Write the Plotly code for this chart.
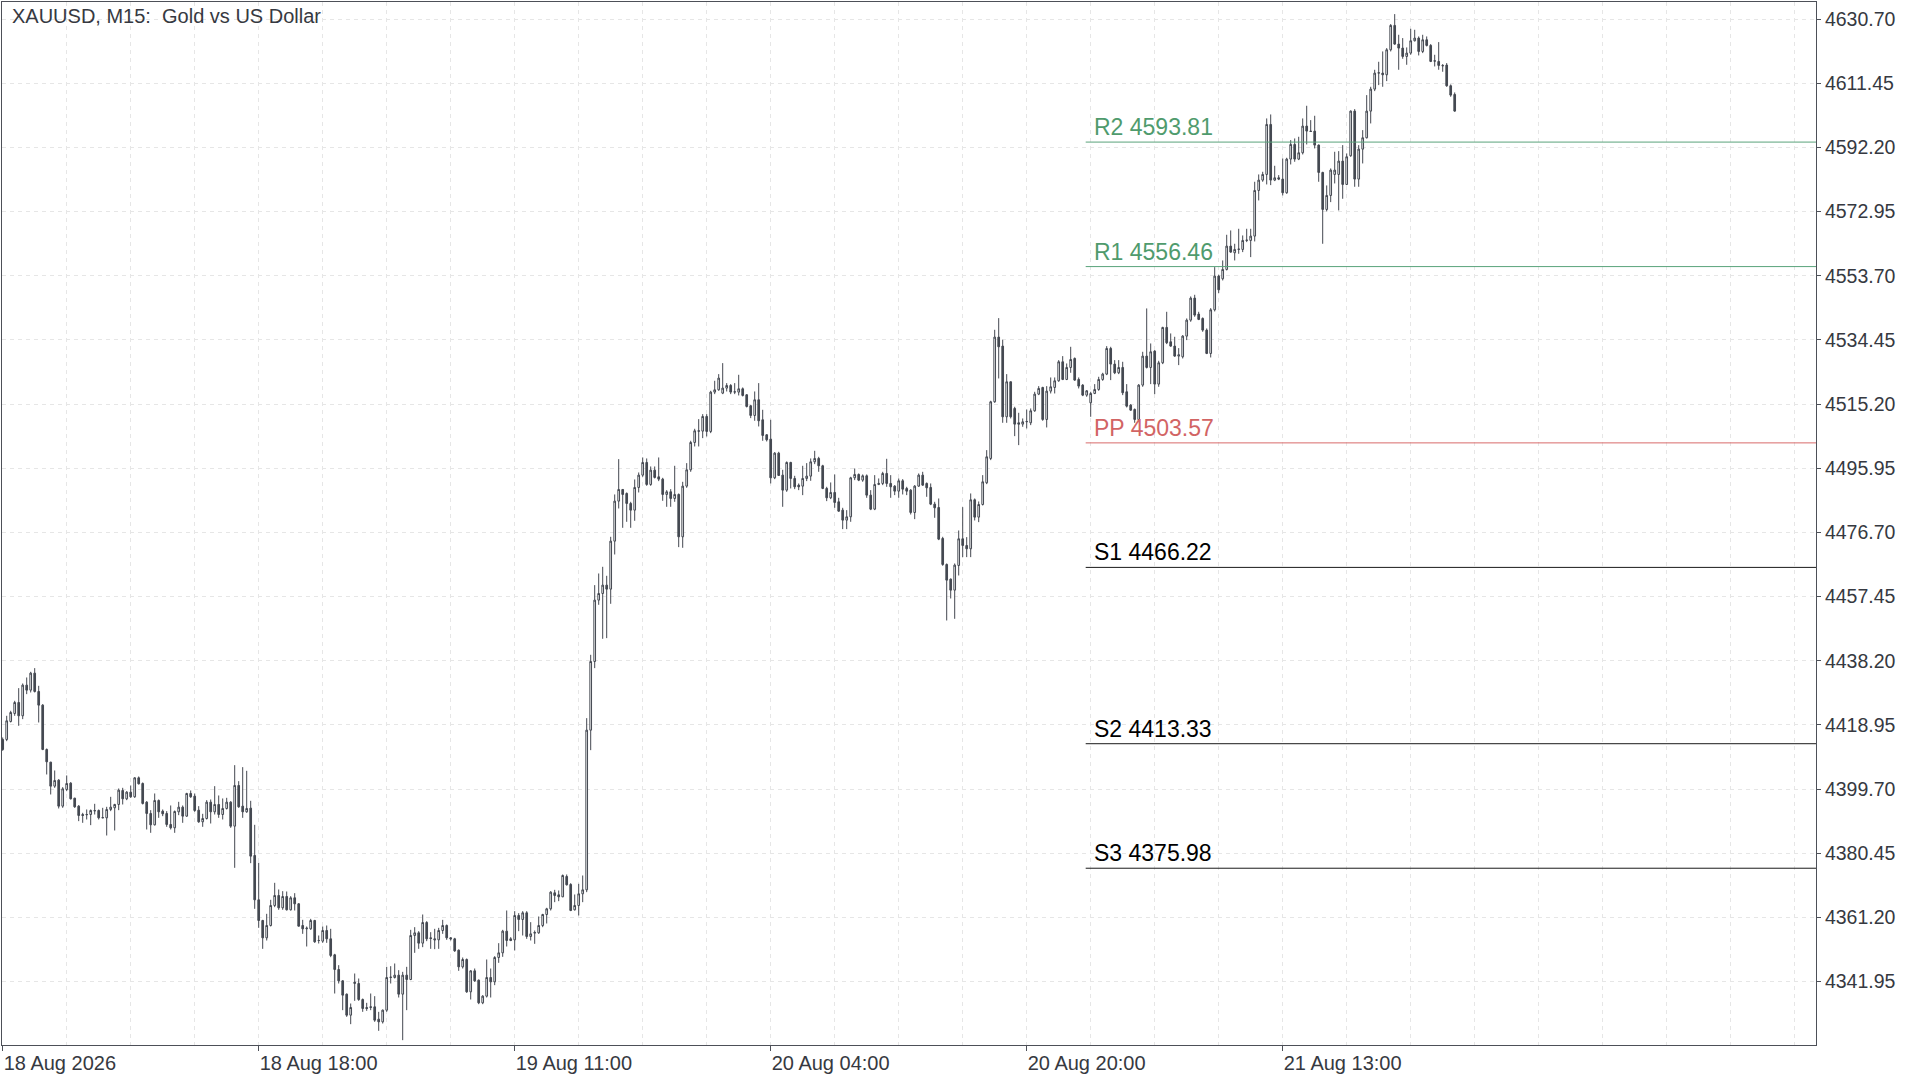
import plotly.graph_objects as go

# ---------------- data (XAUUSD M15 candles) ----------------
o = [4414.6,4414.6,4420.0,4422.4,4425.7,4421.7,4430.9,4429.4,4434.5,4429.0,
     4424.9,4411.6,4407.8,4400.6,4402.4,4394.6,4399.6,4401.5,4397.0,4394.6,
     4392.1,4392.0,4392.1,4393.3,4393.3,4391.2,4391.1,4393.6,4394.1,4395.1,
     4399.3,4396.8,4398.8,4397.4,4403.1,4401.4,4395.8,4392.4,4389.0,4396.3,
     4393.1,4392.4,4389.1,4388.1,4392.9,4394.3,4391.6,4398.4,4397.6,4393.4,
     4389.9,4390.9,4395.8,4392.9,4395.1,4392.1,4393.9,4395.8,4388.6,4400.8,
     4394.6,4392.9,4394.0,4379.8,4366.5,4360.3,4355.1,4358.8,4364.8,4367.8,
     4364.1,4367.5,4363.5,4367.1,4365.3,4358.8,4357.8,4357.8,4360.3,4354.3,
     4354.1,4357.3,4354.8,4350.0,4345.6,4342.2,4338.2,4331.9,4341.4,4341.4,
     4336.6,4334.2,4334.2,4334.4,4330.7,4329.9,4333.4,4343.2,4343.2,4343.9,
     4338.2,4343.9,4342.6,4355.8,4356.6,4353.5,4359.7,4355.1,4354.8,4354.5,
     4357.3,4358.8,4355.1,4354.8,4351.4,4346.4,4348.6,4338.9,4345.2,4342.4,
     4335.6,4337.6,4343.2,4341.9,4349.2,4350.6,4357.1,4354.8,4354.5,4361.8,
     4360.6,4362.6,4355.5,4356.5,4356.6,4358.8,4362.1,4363.8,4368.6,4368.0,
     4367.4,4373.5,4371.1,4363.5,4364.8,4368.3,4369.5,4417.4,4438.0,4456.4,
     4458.4,4460.9,4459.7,4474.1,4486.1,4489.6,4488.4,4485.4,4483.4,4490.2,
     4493.9,4497.7,4491.1,4495.4,4493.4,4492.7,4488.1,4488.9,4486.9,4488.1,
     4475.4,4490.6,4495.5,4503.7,4507.2,4507.1,4511.5,4507.0,4518.8,4519.5,
     4518.5,4520.0,4520.8,4518.8,4518.8,4519.8,4518.0,4514.7,4511.8,4516.5,
     4510.5,4506.0,4504.7,4493.1,4500.5,4493.9,4489.4,4497.7,4492.9,4490.9,
     4490.6,4492.9,4493.6,4497.9,4498.9,4496.7,4489.9,4487.1,4488.7,4485.9,
     4483.4,4480.4,4481.4,4493.1,4494.1,4492.4,4493.7,4487.9,4483.7,4491.1,
     4491.4,4494.4,4491.4,4490.6,4489.1,4492.2,4489.9,4489.4,4482.7,4490.6,
     4493.9,4491.4,4490.2,4485.2,4484.2,4474.9,4467.1,4462.7,4459.4,4466.8,
     4474.8,4472.8,4471.8,4486.5,4481.3,4485.1,4491.6,4498.9,4515.9,4535.3,
     4532.6,4511.4,4521.9,4513.9,4509.6,4509.2,4509.9,4509.6,4513.2,4518.2,
     4520.2,4510.6,4519.1,4520.2,4522.2,4527.9,4522.6,4526.2,4528.9,4522.6,
     4520.9,4517.9,4515.6,4518.4,4519.6,4522.6,4524.2,4531.9,4527.2,4524.6,
     4526.2,4518.9,4514.9,4513.6,4510.6,4520.9,4529.6,4526.2,4531.1,4521.2,
     4527.6,4538.2,4533.9,4532.6,4529.6,4529.4,4535.6,4540.4,4547.0,4542.2,
     4540.9,4537.4,4530.4,4543.5,4553.6,4552.8,4555.6,4562.6,4560.6,4561.6,
     4561.6,4564.3,4564.3,4565.6,4579.3,4582.4,4584.1,4599.1,4582.4,4583.1,
     4582.7,4578.6,4588.7,4593.1,4588.7,4590.6,4598.6,4597.1,4597.1,4592.9,
     4584.7,4573.6,4577.8,4584.1,4584.1,4588.1,4581.1,4589.7,4603.1,4582.7,
     4591.7,4595.1,4603.1,4609.7,4614.5,4614.5,4614.0,4621.5,4628.8,4623.2,
     4622.0,4619.5,4620.5,4624.2,4625.0,4621.0,4624.5,4622.8,4618.2,4618.0,
     4616.8,4616.9,4610.7,4608.1]
h = [4415.2,4421.7,4423.2,4426.2,4430.0,4431.4,4433.2,4434.9,4436.0,4430.7,
     4425.2,4411.9,4407.9,4405.3,4402.7,4400.3,4403.8,4401.8,4397.1,4394.9,
     4392.6,4393.6,4393.6,4395.3,4393.6,4394.1,4394.4,4397.4,4395.3,4399.9,
     4400.1,4399.1,4400.8,4403.3,4403.5,4401.7,4396.1,4393.4,4398.4,4396.6,
     4393.6,4393.1,4394.8,4393.3,4395.9,4394.8,4398.6,4399.3,4398.4,4394.6,
     4392.3,4396.4,4396.6,4400.6,4397.8,4396.9,4397.1,4396.1,4406.9,4402.1,
     4406.3,4405.2,4396.2,4389.0,4377.6,4360.5,4362.3,4366.5,4371.6,4369.6,
     4369.1,4369.0,4367.6,4368.5,4365.5,4360.5,4358.5,4360.8,4360.5,4355.8,
     4358.5,4358.8,4357.8,4350.3,4346.9,4342.4,4338.4,4335.4,4344.4,4342.9,
     4336.9,4335.6,4338.4,4337.6,4332.9,4333.6,4346.4,4346.6,4347.4,4345.4,
     4344.9,4346.4,4357.5,4358.3,4357.1,4362.1,4360.1,4356.8,4357.8,4358.1,
     4360.5,4359.1,4355.3,4355.1,4351.6,4349.2,4348.9,4345.4,4345.9,4342.6,
     4337.9,4348.6,4345.9,4349.6,4353.5,4357.5,4363.3,4355.3,4363.1,4362.5,
     4363.1,4363.1,4359.8,4357.3,4361.5,4362.3,4364.1,4369.1,4369.5,4369.3,
     4374.1,4374.1,4371.5,4368.1,4371.3,4373.8,4421.0,4440.0,4460.9,4464.4,
     4466.4,4463.7,4475.4,4488.1,4498.7,4489.7,4488.7,4485.9,4492.6,4494.7,
     4499.2,4498.9,4496.5,4496.5,4499.2,4493.1,4489.4,4489.7,4496.7,4488.4,
     4491.9,4497.5,4504.2,4507.8,4510.7,4512.2,4512.2,4519.2,4522.2,4524.2,
     4527.5,4521.5,4521.2,4521.5,4524.0,4520.2,4518.2,4515.0,4519.0,4521.5,
     4513.5,4506.2,4510.5,4500.8,4500.9,4495.5,4498.0,4497.9,4493.7,4491.4,
     4496.7,4497.5,4498.9,4501.2,4499.4,4497.0,4490.4,4491.7,4494.1,4487.1,
     4484.1,4483.4,4493.4,4495.9,4494.4,4494.1,4494.1,4489.4,4493.9,4492.9,
     4494.9,4498.8,4493.9,4490.9,4492.9,4492.7,4490.4,4489.7,4490.9,4494.4,
     4494.9,4491.7,4491.4,4485.9,4486.9,4475.4,4467.4,4462.9,4467.4,4477.3,
     4484.3,4475.3,4488.4,4486.9,4486.0,4493.9,4501.4,4516.2,4537.5,4541.0,
     4534.5,4524.2,4522.0,4514.4,4512.6,4510.9,4513.6,4513.9,4518.9,4520.6,
     4520.4,4520.6,4523.2,4523.2,4528.4,4529.6,4527.4,4532.4,4529.2,4523.2,
     4521.2,4519.4,4518.9,4521.2,4523.4,4524.6,4532.6,4532.4,4528.4,4528.4,
     4527.9,4521.2,4515.2,4513.9,4521.2,4530.9,4543.9,4533.4,4531.4,4528.2,
     4538.4,4542.9,4536.4,4535.4,4532.0,4535.9,4540.9,4547.5,4548.0,4542.9,
     4541.2,4537.9,4544.0,4556.3,4554.0,4558.3,4566.0,4567.3,4563.3,4567.8,
     4565.8,4567.8,4567.8,4581.9,4584.1,4584.9,4600.9,4602.1,4586.7,4583.9,
     4588.9,4589.1,4594.4,4594.9,4595.4,4600.9,4604.7,4600.4,4601.7,4593.1,
     4584.9,4580.8,4585.9,4590.9,4591.1,4592.9,4590.4,4603.3,4603.7,4592.9,
     4597.4,4607.9,4610.4,4615.5,4617.9,4621.0,4622.0,4629.2,4632.2,4626.0,
     4625.0,4622.2,4627.8,4627.5,4625.5,4626.0,4625.5,4623.2,4620.0,4623.8,
     4617.2,4617.5,4611.1,4608.7]
l = [4411.2,4414.1,4419.7,4421.7,4418.7,4420.7,4428.2,4428.7,4428.7,4419.7,
     4411.4,4404.1,4398.1,4400.1,4393.9,4394.1,4399.1,4396.6,4394.1,4390.1,
     4389.6,4390.6,4388.9,4392.1,4390.6,4391.0,4385.8,4393.1,4387.3,4393.4,
     4395.1,4396.4,4397.1,4397.1,4401.1,4395.1,4387.6,4386.6,4388.8,4391.1,
     4391.6,4388.4,4387.6,4386.6,4391.9,4389.6,4391.4,4397.1,4392.9,4389.6,
     4388.4,4390.6,4389.4,4392.1,4391.1,4390.6,4393.6,4388.1,4376.1,4394.1,
     4391.1,4392.6,4377.5,4363.8,4358.1,4351.8,4354.3,4358.5,4364.3,4363.5,
     4363.5,4363.3,4363.3,4363.3,4358.5,4356.3,4352.5,4357.5,4353.6,4353.4,
     4353.6,4353.6,4349.3,4338.4,4341.4,4333.4,4331.4,4329.2,4336.2,4336.2,
     4332.9,4333.2,4333.4,4329.9,4327.2,4329.4,4332.9,4341.4,4342.9,4337.2,
     4324.4,4333.4,4342.4,4350.6,4351.8,4352.3,4354.1,4351.8,4351.7,4351.8,
     4356.3,4354.5,4354.3,4350.9,4345.2,4345.9,4338.6,4336.6,4341.9,4335.2,
     4335.2,4337.2,4337.2,4340.9,4347.6,4349.4,4352.5,4354.1,4351.3,4357.1,
     4355.8,4354.8,4354.3,4353.3,4356.3,4358.3,4359.4,4363.3,4365.8,4366.1,
     4367.3,4370.8,4363.1,4363.3,4361.8,4365.8,4368.8,4411.4,4436.0,4455.0,
     4444.8,4445.0,4455.3,4470.1,4483.9,4478.1,4479.9,4478.1,4480.2,4488.7,
     4493.4,4490.7,4490.7,4492.9,4492.1,4486.2,4484.4,4484.4,4485.9,4472.3,
     4472.1,4490.1,4494.9,4502.5,4502.5,4505.0,4505.5,4506.5,4518.2,4519.2,
     4518.2,4519.0,4518.2,4518.2,4517.8,4517.5,4514.2,4511.0,4510.2,4508.5,
     4504.2,4504.0,4491.4,4492.7,4493.7,4484.4,4488.9,4489.9,4489.7,4489.4,
     4487.9,4492.1,4492.2,4497.2,4494.9,4489.7,4486.1,4486.7,4484.1,4482.9,
     4477.7,4477.7,4479.9,4492.4,4492.1,4491.9,4487.1,4483.4,4483.4,4490.9,
     4490.9,4490.4,4487.1,4487.9,4487.1,4488.1,4487.9,4482.1,4480.7,4490.4,
     4490.7,4487.4,4484.9,4481.1,4474.4,4466.7,4450.3,4456.9,4450.8,4463.8,
     4469.3,4469.3,4469.3,4480.3,4479.8,4484.8,4491.2,4498.4,4515.6,4522.9,
     4509.6,4509.6,4510.9,4505.6,4502.9,4508.4,4507.9,4508.9,4512.9,4517.9,
     4510.2,4508.2,4518.4,4518.4,4521.9,4522.4,4522.4,4524.6,4522.2,4519.9,
     4517.6,4517.4,4511.4,4518.2,4519.2,4522.2,4523.9,4522.4,4524.2,4524.2,
     4517.9,4514.2,4513.2,4509.6,4510.2,4520.4,4525.9,4521.2,4518.2,4520.4,
     4527.2,4533.2,4532.4,4529.4,4526.9,4528.9,4534.4,4539.9,4541.4,4540.4,
     4536.9,4530.2,4529.2,4543.0,4548.5,4552.3,4555.3,4560.6,4558.3,4560.3,
     4560.8,4563.8,4559.3,4564.0,4576.3,4581.9,4581.1,4580.9,4582.1,4582.4,
     4577.8,4578.3,4587.1,4587.9,4588.4,4590.1,4593.1,4596.9,4591.9,4581.9,
     4563.3,4573.0,4575.8,4581.4,4573.3,4576.8,4580.9,4589.4,4580.4,4580.4,
     4587.4,4594.9,4599.4,4609.1,4610.9,4610.4,4612.1,4621.0,4623.0,4615.5,
     4618.8,4617.0,4620.0,4624.0,4619.8,4620.5,4622.5,4617.8,4616.5,4615.5,
     4614.9,4610.4,4607.4,4602.9]
c = [4411.6,4420.2,4422.7,4425.7,4421.7,4430.9,4429.4,4434.5,4429.0,4424.9,
     4411.6,4407.9,4400.6,4402.3,4394.6,4399.8,4401.4,4396.8,4394.4,4391.8,
     4391.8,4392.1,4393.3,4393.2,4391.1,4391.1,4393.6,4394.3,4395.1,4399.4,
     4396.8,4398.8,4397.4,4403.1,4401.3,4395.4,4392.4,4389.0,4396.3,4392.9,
     4392.3,4389.1,4388.1,4393.0,4394.3,4391.6,4398.4,4397.4,4393.3,4389.9,
     4390.9,4395.8,4392.9,4395.1,4392.1,4393.9,4395.8,4388.6,4400.8,4394.4,
     4392.9,4393.9,4379.6,4366.5,4360.3,4355.1,4358.8,4364.8,4367.8,4364.1,
     4367.5,4363.5,4367.1,4365.3,4358.6,4357.8,4358.0,4360.3,4353.9,4354.3,
     4357.3,4354.8,4349.8,4345.6,4342.2,4337.9,4331.9,4334.2,4341.8,4336.6,
     4333.9,4333.9,4334.4,4330.4,4329.9,4333.4,4343.2,4343.3,4343.9,4338.2,
     4343.9,4342.6,4355.8,4356.6,4353.5,4359.7,4354.8,4354.9,4354.5,4357.3,
     4358.8,4355.1,4354.8,4351.2,4346.4,4348.6,4338.9,4345.2,4342.2,4335.6,
     4337.6,4343.2,4341.9,4349.2,4350.6,4357.1,4354.3,4354.3,4361.8,4360.6,
     4362.6,4355.5,4356.3,4356.7,4358.8,4362.1,4363.8,4368.8,4367.8,4367.4,
     4373.8,4371.0,4363.3,4364.8,4368.3,4369.5,4417.4,4438.0,4456.4,4458.4,
     4460.9,4459.7,4474.1,4486.1,4489.6,4488.1,4485.4,4483.4,4490.2,4493.9,
     4497.7,4491.1,4495.4,4493.2,4492.7,4488.1,4488.9,4486.9,4488.1,4475.4,
     4490.6,4495.5,4503.7,4507.2,4507.1,4511.5,4507.0,4518.8,4519.5,4523.0,
     4520.0,4520.8,4518.8,4518.9,4519.8,4517.8,4514.5,4511.8,4516.5,4510.2,
     4505.8,4504.5,4493.1,4500.5,4493.8,4489.4,4497.7,4492.9,4490.4,4490.4,
     4492.9,4493.6,4497.9,4498.9,4496.7,4489.9,4487.1,4488.7,4485.7,4483.1,
     4480.4,4481.4,4493.1,4494.1,4492.4,4493.7,4487.9,4483.7,4491.1,4491.4,
     4494.4,4491.4,4490.4,4489.1,4492.2,4489.7,4489.1,4482.7,4490.6,4493.9,
     4490.9,4490.1,4485.2,4484.1,4474.7,4467.1,4462.4,4459.4,4466.9,4474.8,
     4472.8,4471.8,4486.5,4481.3,4485.1,4491.9,4499.4,4515.9,4535.3,4532.4,
     4511.4,4521.9,4511.4,4509.2,4509.2,4509.9,4510.0,4513.2,4518.2,4519.9,
     4510.6,4519.1,4520.4,4522.2,4527.9,4522.6,4526.2,4528.6,4522.4,4520.6,
     4517.9,4519.2,4518.4,4519.6,4522.6,4524.2,4531.9,4527.2,4524.6,4526.2,
     4518.6,4514.6,4513.4,4510.6,4520.9,4529.6,4526.2,4530.9,4521.2,4527.6,
     4538.2,4533.6,4532.6,4529.6,4530.0,4535.6,4540.4,4547.0,4541.9,4540.6,
     4537.4,4530.4,4543.5,4553.6,4549.5,4555.6,4562.6,4560.8,4561.6,4561.7,
     4564.3,4564.4,4565.6,4579.3,4582.4,4584.1,4599.1,4582.4,4583.1,4582.7,
     4578.6,4588.7,4593.1,4588.7,4590.6,4598.6,4597.1,4597.0,4592.9,4584.7,
     4573.6,4577.8,4585.4,4585.4,4588.1,4581.1,4589.4,4603.1,4582.7,4591.7,
     4595.1,4603.1,4609.7,4614.5,4614.6,4614.0,4621.5,4628.8,4623.2,4622.0,
     4619.5,4620.5,4624.2,4625.0,4621.0,4624.5,4622.8,4618.0,4618.1,4616.8,
     4616.7,4610.7,4607.9,4603.1]
bars = list(range(len(o)))

x_tick_bars = [0, 64, 128, 192, 256, 320]
x_tick_labels = ["18 Aug 2026", "18 Aug 18:00", "19 Aug 11:00",
                 "20 Aug 04:00", "20 Aug 20:00", "21 Aug 13:00"]
x_grid_step = 16

y_tick0 = 4341.95
y_tick_step = 19.25

pivot_names = ["R2", "R1", "PP", "S1", "S2", "S3"]
pivot_values = [4593.81, 4556.46, 4503.57, 4466.22, 4413.33, 4375.98]
pivot_start_bar = 270.75

title_text = "XAUUSD, M15:\u00a0 Gold vs US Dollar"

# ---------------- styling ----------------
CANDLE = "#444851"
AXIS = "#4d5058"
TEXT = "#363941"
GRID = "#e6e6e6"
FONT = "Liberation Sans"
pivot_colors = ["#4f9b6d", "#4f9b6d", "#d26464", "#000000", "#000000", "#000000"]
line_colors = ["#5aa37b", "#5aa37b", "#d86a6a", "#1a1a1a", "#1a1a1a", "#1a1a1a"]

x_range = [-0.175, 453.325]
y_range = [4322.95, 4635.83]

fig = go.Figure()
fig.add_trace(go.Candlestick(
    x=bars, open=o, high=h, low=l, close=c,
    increasing=dict(line=dict(color=CANDLE, width=1), fillcolor="#ffffff"),
    decreasing=dict(line=dict(color=CANDLE, width=1), fillcolor=CANDLE),
    whiskerwidth=0, hoverinfo="skip", showlegend=False,
))

for name, val, tc, lc in zip(pivot_names, pivot_values, pivot_colors, line_colors):
    fig.add_shape(type="line", xref="x", yref="y",
                  x0=pivot_start_bar, x1=x_range[1], y0=val, y1=val,
                  line=dict(color=lc, width=1), layer="above")
    fig.add_annotation(x=pivot_start_bar, y=val, xref="x", yref="y",
                       text=f"{name} {val:.2f}", showarrow=False,
                       xanchor="left", yanchor="bottom", xshift=6, yshift=0,
                       font=dict(family=FONT, size=23, color=tc))

fig.add_annotation(x=0, y=1, xref="paper", yref="paper", text=title_text,
                   showarrow=False, xanchor="left", yanchor="top",
                   xshift=8, yshift=-1,
                   font=dict(family=FONT, size=20, color=TEXT))

fig.update_layout(
    width=1920, height=1080,
    margin=dict(l=2, r=104, t=2, b=35, pad=0),
    paper_bgcolor="#ffffff", plot_bgcolor="#ffffff",
    boxgap=0.4,
    font=dict(family=FONT, size=20, color=TEXT),
    xaxis=dict(
        range=x_range, rangeslider=dict(visible=False),
        tickmode="array", tickvals=x_tick_bars, ticktext=x_tick_labels,
        ticks="outside", ticklen=5, tickcolor=AXIS, tickwidth=1,
        ticklabelposition="outside right",
        tickfont=dict(family=FONT, size=20, color=TEXT),
        showgrid=True, gridcolor=GRID, griddash="4px,4px", gridwidth=1,
        minor=dict(tickmode="linear", tick0=0, dtick=x_grid_step,
                   showgrid=True, gridcolor=GRID, griddash="4px,4px", ticks=""),
        showline=True, linecolor=AXIS, linewidth=1, mirror=True,
        zeroline=False, fixedrange=True,
    ),
    yaxis=dict(
        range=y_range, side="right",
        tickmode="linear", tick0=y_tick0, dtick=y_tick_step, tickformat=".2f",
        ticks="outside", ticklen=4, tickcolor=AXIS, tickwidth=1,
        tickfont=dict(family=FONT, size=19.5, color=TEXT),
        showgrid=True, gridcolor=GRID, griddash="4px,4px", gridwidth=1,
        showline=True, linecolor=AXIS, linewidth=1, mirror=True,
        zeroline=False, fixedrange=True,
    ),
)

fig.write_html("out.html", config={"displayModeBar": False},
               post_script="document.body.style.margin='0';document.body.style.overflow='hidden';")
